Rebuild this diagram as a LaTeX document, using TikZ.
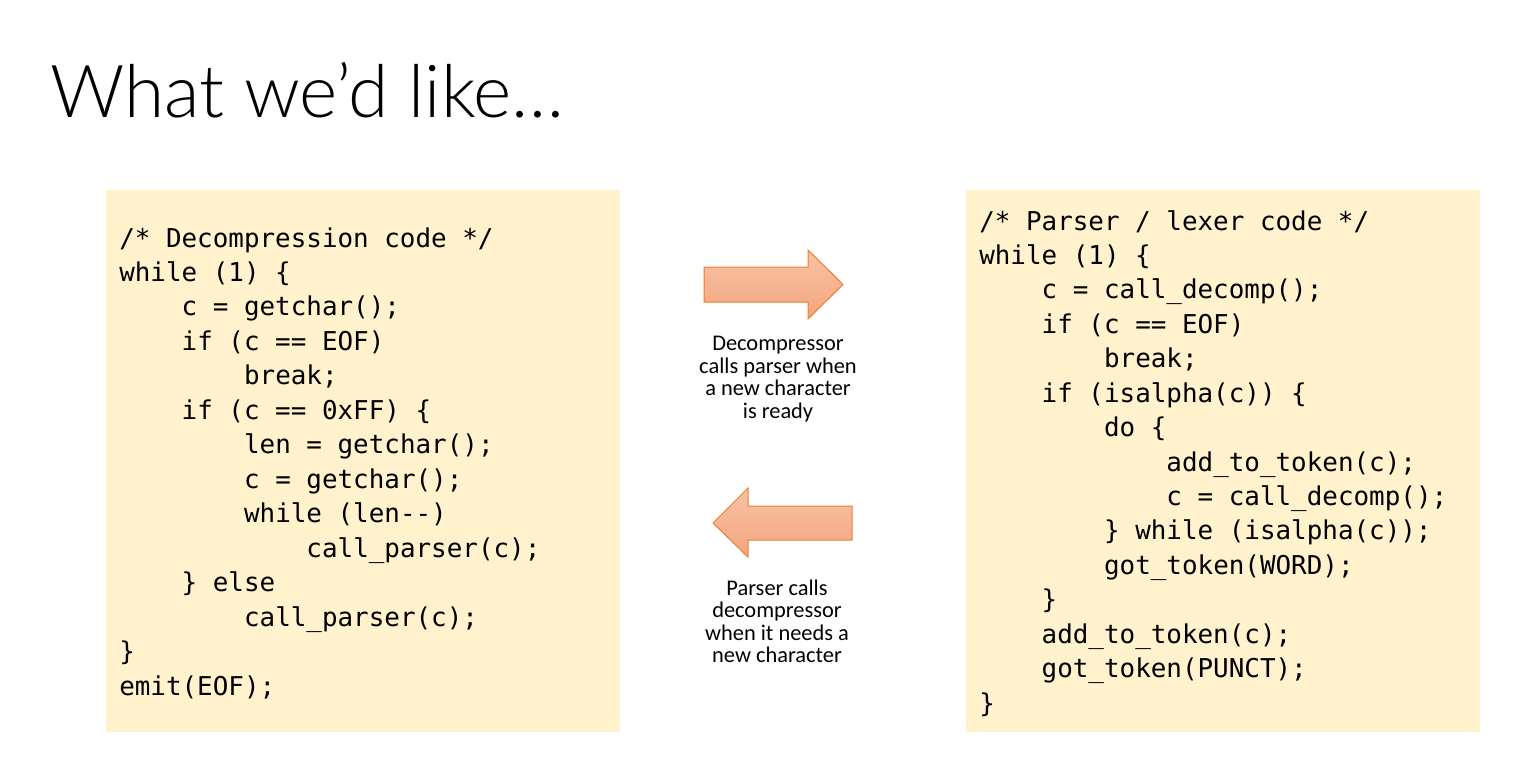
\documentclass[tikz,border=0pt]{standalone}
\usepackage{fontspec}
\setmainfont{Carlito}
\newfontfamily\codefont{DejaVu Sans Mono}
\newfontfamily\titlefont{Lato}[UprightFont={* Light}]
\definecolor{boxbg}{HTML}{FFF2CC}
\definecolor{arrowline}{HTML}{ED7D31}
\definecolor{arrowtop}{HTML}{F7C4A6}
\definecolor{arrowbot}{HTML}{F3A47E}
\tikzset{
  codebox/.style={fill=boxbg, draw=none},
  codeline/.style={anchor=base west, inner sep=0pt, font=\codefont\fontsize{19.43}{24}\selectfont},
  lbl/.style={align=center, anchor=base, inner sep=0pt, font=\fontsize{16.8}{16.95}\selectfont},
  blockarrow/.style={draw=arrowline, line width=0.75pt, top color=arrowtop, bottom color=arrowbot, line join=miter},
  titletext/.style={anchor=base west, inner sep=0pt, font=\titlefont\fontsize{54.8}{60}\selectfont}
}
\begin{document}
\begin{tikzpicture}[x=0.75pt,y=-0.75pt]
\useasboundingbox (0,0) rectangle (1535,760);
\fill[white] (0,0) rectangle (1535,760);
% title
\node[titletext] (title) at (50,117.7) {What we’d like…};
% code boxes
\path[codebox] (106,190) rectangle (620,732);
\path[codebox] (966,190) rectangle (1480,732);
% left code
\node[codeline] (l1)  at (119,247.0) {/* Decompression code */};
\node[codeline] (l2)  at (119,281.5) {while (1) \{};
\node[codeline] (l3)  at (181.4,315.9) {c = getchar();};
\node[codeline] (l4)  at (181.4,350.4) {if (c == EOF)};
\node[codeline] (l5)  at (243.8,384.8) {break;};
\node[codeline] (l6)  at (181.4,419.3) {if (c == 0xFF) \{};
\node[codeline] (l7)  at (243.8,453.8) {len = getchar();};
\node[codeline] (l8)  at (243.8,488.2) {c = getchar();};
\node[codeline] (l9)  at (243.8,522.7) {while (len-{}-)};
\node[codeline] (l10) at (306.2,557.1) {call\_parser(c);};
\node[codeline] (l11) at (181.4,591.6) {\} else};
\node[codeline] (l12) at (243.8,626.1) {call\_parser(c);};
\node[codeline] (l13) at (119,660.5) {\}};
\node[codeline] (l14) at (119,695.0) {emit(EOF);};
% right code
\node[codeline] (r1)  at (979,230.0) {/* Parser / lexer code */};
\node[codeline] (r2)  at (979,264.4) {while (1) \{};
\node[codeline] (r3)  at (1041.4,298.9) {c = call\_decomp();};
\node[codeline] (r4)  at (1041.4,333.3) {if (c == EOF)};
\node[codeline] (r5)  at (1103.8,367.7) {break;};
\node[codeline] (r6)  at (1041.4,402.2) {if (isalpha(c)) \{};
\node[codeline] (r7)  at (1103.8,436.6) {do \{};
\node[codeline] (r8)  at (1166.2,471.0) {add\_to\_token(c);};
\node[codeline] (r9)  at (1166.2,505.4) {c = call\_decomp();};
\node[codeline] (r10) at (1103.8,539.9) {\} while (isalpha(c));};
\node[codeline] (r11) at (1103.8,574.3) {got\_token(WORD);};
\node[codeline] (r12) at (1041.4,608.7) {\}};
\node[codeline] (r13) at (1041.4,643.2) {add\_to\_token(c);};
\node[codeline] (r14) at (1041.4,677.6) {got\_token(PUNCT);};
\node[codeline] (r15) at (979,712.0) {\}};
% block arrows
\path[blockarrow] (704,267) -- (808,267) -- (808,250) -- (843,284.5) -- (808,319) -- (808,302) -- (704,302) -- cycle;
\path[blockarrow] (852,506) -- (748,506) -- (748,488) -- (713,523) -- (748,557) -- (748,540) -- (852,540) -- cycle;
% labels (base anchor = baseline of last line)
\node[lbl] (lblA) at (778,418.3) {Decompressor\\calls parser when\\a new character\\is ready};
\node[lbl] (lblB) at (777,662.8) {Parser calls\\decompressor\\when it needs a\\new character};
\end{tikzpicture}
\end{document}
